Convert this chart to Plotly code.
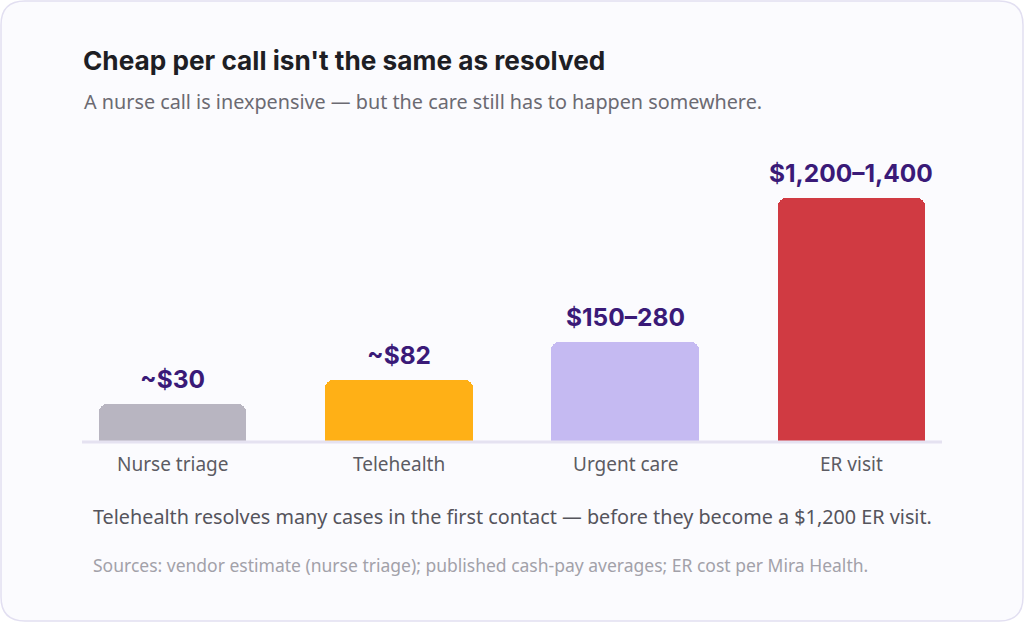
import plotly.graph_objects as go
import numpy as np

# ---- data ----
categories = ["Nurse triage", "Telehealth", "Urgent care", "ER visit"]
cost_mid = [30, 82, 215, 1300]          # representative cost (midpoint of range)
value_labels = ["~$30", "~$82", "$150–280", "$1,200–1,400"]
bar_colors = ["#B8B5C1", "#FFB016", "#C5BAF2", "#D03A42"]

W, H = 1024, 622
heights = np.sqrt(np.array(cost_mid, dtype=float))   # square-root scale

fig = go.Figure()
fig.add_trace(go.Bar(
    x=categories, y=heights,
    marker=dict(color=bar_colors, line=dict(width=0), cornerradius=8),
    width=0.653, hoverinfo="skip", showlegend=False,
))

for c, h, lab in zip(categories, heights, value_labels):
    fig.add_annotation(x=c, y=h, text=f"<b>{lab}</b>", showarrow=False,
                       xref="x", yref="y", yanchor="bottom", yshift=8,
                       font=dict(family="Inter", size=24.5, color="#3A1A78"))

# plot area geometry
x0, x1 = 82, 942
ybase, ytop = 441, 140
scale = 6.73
fig.update_layout(
    width=W, height=H, margin=dict(l=0, r=0, t=0, b=0),
    paper_bgcolor="#FFFFFF", plot_bgcolor="rgba(0,0,0,0)",
    xaxis=dict(domain=[x0 / W, x1 / W], range=[-0.4, 3.4], showgrid=False,
               zeroline=False, showline=False, ticks="", showticklabels=False,
               fixedrange=True),
    yaxis=dict(domain=[(H - ybase) / H, (H - ytop) / H],
               range=[0, (ybase - ytop) / scale], showgrid=False, zeroline=False,
               showline=False, showticklabels=False, fixedrange=True),
    bargap=0,
)

# category labels
for c in categories:
    fig.add_annotation(x=c, y=(H - 464) / H, xref="x", yref="paper", text=c,
                       showarrow=False, yanchor="middle",
                       font=dict(family="Noto Sans", size=19, color="#5C5B63"))

# card background with rounded corners
rx, ry = 24 / W, 24 / H
l, r, b, t = 1 / W, 1 - 1 / W, 1 / H, 1 - 1 / H
path = (f"M {l+rx},{t} L {r-rx},{t} Q {r},{t} {r},{t-ry} L {r},{b+ry} "
        f"Q {r},{b} {r-rx},{b} L {l+rx},{b} Q {l},{b} {l},{b+ry} L {l},{t-ry} "
        f"Q {l},{t} {l+rx},{t} Z")
fig.add_shape(type="path", path=path, xref="paper", yref="paper", layer="below",
              fillcolor="#FBFBFE", line=dict(color="#E2DFF1", width=1.5))

# baseline
fig.add_shape(type="line", xref="paper", yref="paper",
              x0=x0 / W, x1=x1 / W, y0=(H - 442) / H, y1=(H - 442) / H,
              line=dict(color="#E5E2F1", width=3))

# titles and notes
fig.add_annotation(x=81 / W, y=(H - 60) / H, xref="paper", yref="paper",
                   xanchor="left", yanchor="middle", showarrow=False,
                   text="<b>Cheap per call isn't the same as resolved</b>",
                   font=dict(family="Inter", size=26.2, color="#1E1E24"))
fig.add_annotation(x=82 / W, y=(H - 101) / H, xref="paper", yref="paper",
                   xanchor="left", yanchor="middle", showarrow=False,
                   text="A nurse call is inexpensive — but the care still has to happen somewhere.",
                   font=dict(family="Noto Sans", size=19.8, color="#6B6A72"))
fig.add_annotation(x=91 / W, y=(H - 516) / H, xref="paper", yref="paper",
                   xanchor="left", yanchor="middle", showarrow=False,
                   text="Telehealth resolves many cases in the first contact — before they become a $1,200 ER visit.",
                   font=dict(family="Noto Sans", size=19.8, color="#55545C"))
fig.add_annotation(x=91 / W, y=(H - 565) / H, xref="paper", yref="paper",
                   xanchor="left", yanchor="middle", showarrow=False,
                   text="Sources: vendor estimate (nurse triage); published cash-pay averages; ER cost per Mira Health.",
                   font=dict(family="Noto Sans", size=17.5, color="#A2A1A9"))

fig.write_html("out.html", config={"displayModeBar": False})
